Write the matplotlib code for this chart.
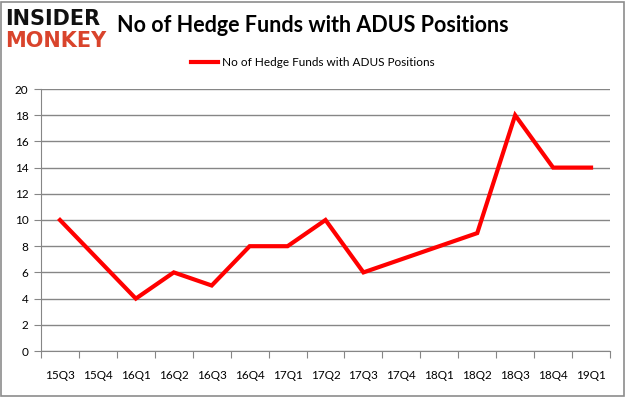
import matplotlib
matplotlib.use('Agg')
import matplotlib.pyplot as plt
from matplotlib.patches import Rectangle

quarters = ['15Q3', '15Q4', '16Q1', '16Q2', '16Q3', '16Q4', '17Q1', '17Q2',
            '17Q3', '17Q4', '18Q1', '18Q2', '18Q3', '18Q4', '19Q1']
funds = [10, 7, 4, 6, 5, 8, 8, 10, 6, 7, 8, 9, 18, 14, 14]
y_ticks = [0, 2, 4, 6, 8, 10, 12, 14, 16, 18, 20]

plt.rcParams['font.family'] = ['Lato', 'DejaVu Sans']

W, H = 626, 397
fig = plt.figure(figsize=(W / 100, H / 100), dpi=100, facecolor='w')

# outer frame
fig.patches.append(Rectangle((1 / W, 1 / H), (W - 3) / W, (H - 3) / H, transform=fig.transFigure,
                             fill=False, edgecolor='#8c8c8c', lw=1.2))

ax = fig.add_axes([41 / W, (H - 351) / H, 569 / W, 262 / H])
ax.set_facecolor('w')

_xs = list(range(len(quarters)))
ax.plot(_xs, funds, color='#ff0000', lw=3.0, solid_joinstyle='miter',
        label='No of Hedge Funds with ADUS Positions')

ax.set_xlim(-0.5, len(quarters) - 0.5)
ax.set_ylim(0, 20)
ax.set_yticks(y_ticks)
ax.yaxis.grid(True, color='#868686', lw=1)
ax.set_axisbelow(True)

ax.set_xticks([k - 0.5 for k in range(len(quarters) + 1)])
ax.set_xticklabels([])
ax.set_xticks(_xs, minor=True)
ax.set_xticklabels(quarters, minor=True)
ax.tick_params(axis='x', which='major', length=5, color='#868686', direction='out')
ax.tick_params(axis='x', which='minor', length=0, pad=14, labelsize=8.5)
ax.tick_params(axis='y', length=5, color='#868686', labelsize=8.5, pad=4)

for s in ['top', 'right']:
    ax.spines[s].set_visible(False)
for s in ['left', 'bottom']:
    ax.spines[s].set_color('#868686')

ax.legend(loc='lower center', bbox_to_anchor=(0.478, 1.04), frameon=False, fontsize=8.5,
          handlelength=2.3, handletextpad=0.3)

fig.text(0.5, (H - 25) / H, 'No of Hedge Funds with ADUS Positions', ha='center', va='center',
         fontsize=15.5, fontweight='bold')

# logo
fig.text(5 / W, (H - 19) / H, 'INSIDER', ha='left', va='center', fontsize=15,
         fontweight='heavy', color='#111111', family=['DejaVu Sans'])
fig.text(5 / W, (H - 41) / H, 'MONKEY', ha='left', va='center', fontsize=15,
         fontweight='heavy', color='#d9442c', family=['DejaVu Sans'])

plt.savefig('out.png', dpi=100, facecolor='w')
